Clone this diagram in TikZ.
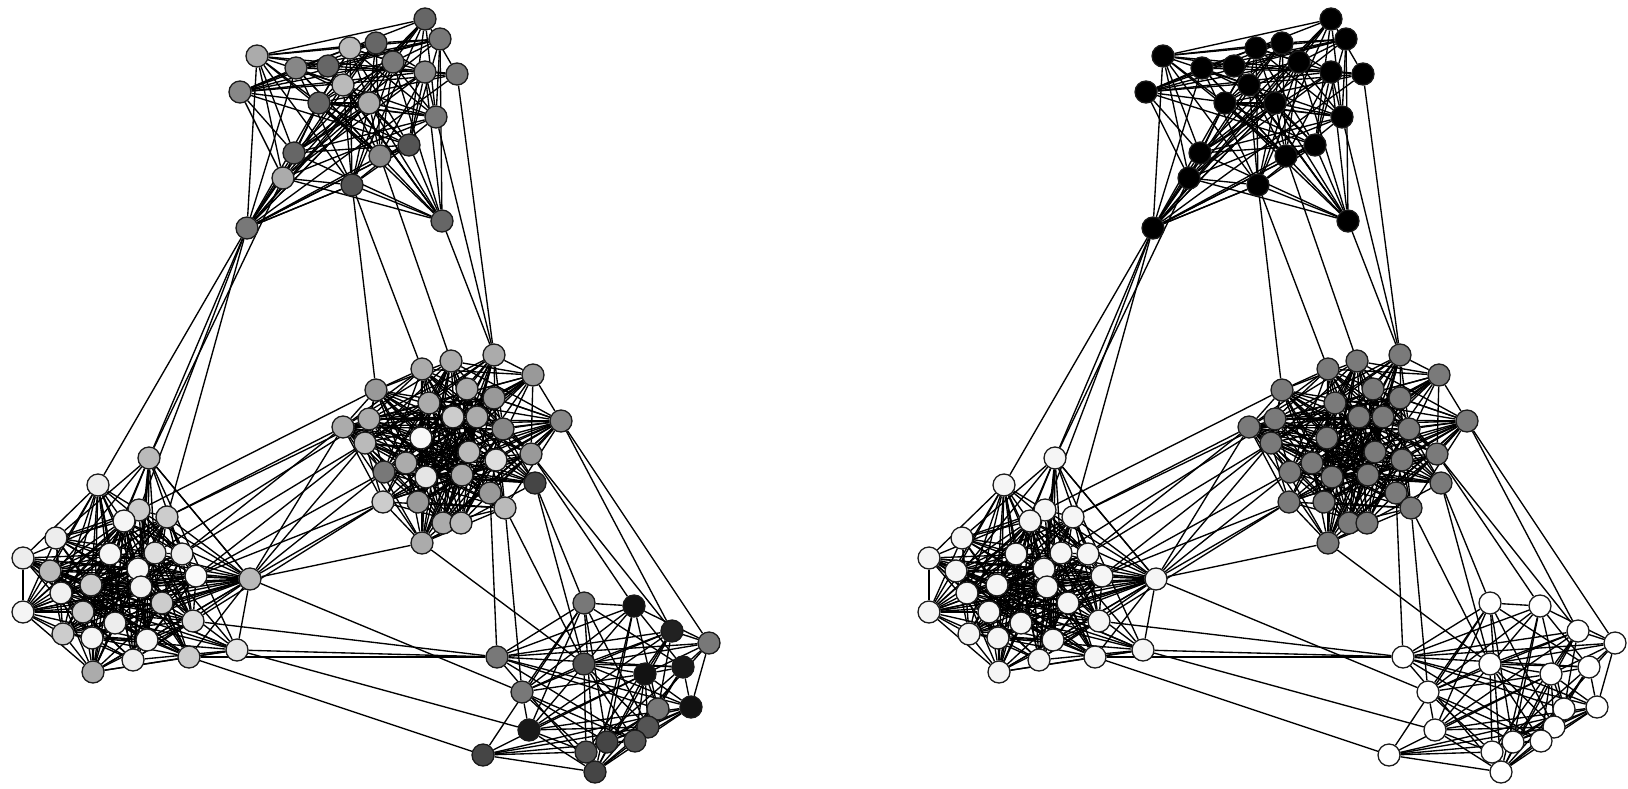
\documentclass[tikz,border=0pt]{standalone}
\usetikzlibrary{backgrounds}
\tikzset{
  vtx/.style={circle, draw=black!90, line width=1.3pt, minimum size=22pt, inner sep=0pt},
  edge/.style={draw=black, line width=1.35pt},
}
\newcommand\clusteredges[3]{%
  \pgfmathtruncatemacro\cemax{#2-1}%
  \foreach \i in {1,...,\cemax} {%
    \pgfmathtruncatemacro\jstart{\i+1}%
    \foreach \j in {\jstart,...,#2} {%
      \pgfmathsetmacro\rv{rnd}%
      \ifdim\rv pt<#3pt
        \draw[edge] (L#1\i) -- (L#1\j);
        \draw[edge] (R#1\i) -- (R#1\j);
      \fi
    }%
  }%
}
\begin{document}
\begin{tikzpicture}[x=1pt,y=-1pt]
\useasboundingbox (0,0) rectangle (1628,788);
% cluster A
\foreach \n/\x/\y/\g in {1/425/19/60,2/440/39/53,3/457/74/53,4/425/72/47,5/393/62/53,6/376/43/60,7/350/48/27,8/328/66/60,9/296/68/47,10/257/56/33,11/240/92/47,12/343/85/27,13/369/103/33,14/319/103/60,15/436/117/53,16/409/145/67,17/380/156/47,18/294/153/60,19/283/178/33,20/352/185/67,21/442/221/60,22/247/228/53} {
  \node[vtx, fill=black!\g] (LA\n) at (\x,\y) {};
  \node[vtx, fill=black] (RA\n) at (\x+906,\y) {};
}
% cluster B
\foreach \n/\x/\y/\g in {1/494/355/33,2/533/375/40,3/451/361/33,4/422/369/33,5/376/390/40,6/467/389/33,7/494/398/40,8/429/403/33,9/561/421/47,10/369/419/33,11/343/427/33,12/453/417/20,13/477/417/33,14/503/429/47,15/365/443/27,16/421/438/3,17/469/452/27,18/496/460/13,19/531/454/40,20/406/463/33,21/384/472/53,22/426/477/10,23/462/475/33,24/535/483/73,25/383/502/20,26/418/502/40,27/490/493/40,28/505/508/27,29/443/523/33,30/461/523/27,31/422/543/33} {
  \node[vtx, fill=black!\g] (LB\n) at (\x,\y) {};
  \node[vtx, fill=black!52] (RB\n) at (\x+906,\y) {};
}
% cluster C
\foreach \n/\x/\y/\g in {1/149/458/27,2/98/485/7,3/139/510/20,4/167/517/20,5/124/521/4,6/56/538/7,7/23/558/7,8/110/554/4,9/155/553/13,10/182/554/7,11/138/569/3,12/50/571/27,13/196/576/2,14/250/579/27,15/91/585/20,16/141/587/6,17/61/593/6,18/162/603/20,19/23/612/4,20/83/612/20,21/115/623/7,22/193/621/13,23/63/634/20,24/92/638/4,25/147/640/4,26/133/660/7,27/189/657/20,28/237/650/10,29/93/672/33} {
  \node[vtx, fill=black!\g] (LC\n) at (\x,\y) {};
  \node[vtx, fill=black!4] (RC\n) at (\x+906,\y) {};
}
% cluster D
\foreach \n/\x/\y/\g in {1/584/603/53,2/634/606/93,3/672/631/87,4/709/643/53,5/497/657/53,6/584/664/67,7/645/674/93,8/683/667/90,9/522/692/53,10/691/707/93,11/658/709/53,12/529/730/90,13/648/727/67,14/635/741/67,15/607/742/73,16/586/752/67,17/483/755/73,18/595/772/73} {
  \node[vtx, fill=black!\g] (LD\n) at (\x,\y) {};
  \node[vtx, fill=white] (RD\n) at (\x+906,\y) {};
}
\begin{pgfonlayer}{background}
\fill[white] (0,0) rectangle (1628,788);
\pgfmathsetseed{4711}
\clusteredges{A}{22}{0.5}
\clusteredges{B}{31}{0.58}
\clusteredges{C}{29}{0.58}
\clusteredges{D}{18}{0.55}
\foreach \a/\b in {A22/C1,A22/C2,A22/C3,A22/C4,A19/C1,
  A20/B5,A20/B4,A17/B3,A15/B1,A21/B1,A3/B1,
  A21/A18,A21/A19,A21/A14,A21/A12,A21/A8,A21/A20,A21/A9,
  A22/A13,A22/A12,A22/A7,A22/A20,A22/A17,A22/A16,A22/A6,
  C3/B5,C4/B11,C10/B11,C10/B15,C13/B15,C9/B10,C13/B21,C4/B10,
  C14/B11,C14/B15,C14/B21,C14/B25,C14/B31,C22/B25,C13/B25,C1/C14,
  C22/D5,C28/D5,C27/D5,C14/D9,C28/D12,C27/D17,
  B27/D5,B28/D9,B28/D6,B31/D6,B24/D1,B24/D6,B19/D2,B19/D3,B9/D4,B9/D3} {
  \draw[edge] (L\a) -- (L\b);
  \draw[edge] (R\a) -- (R\b);
}
\end{pgfonlayer}
\end{tikzpicture}
\end{document}
